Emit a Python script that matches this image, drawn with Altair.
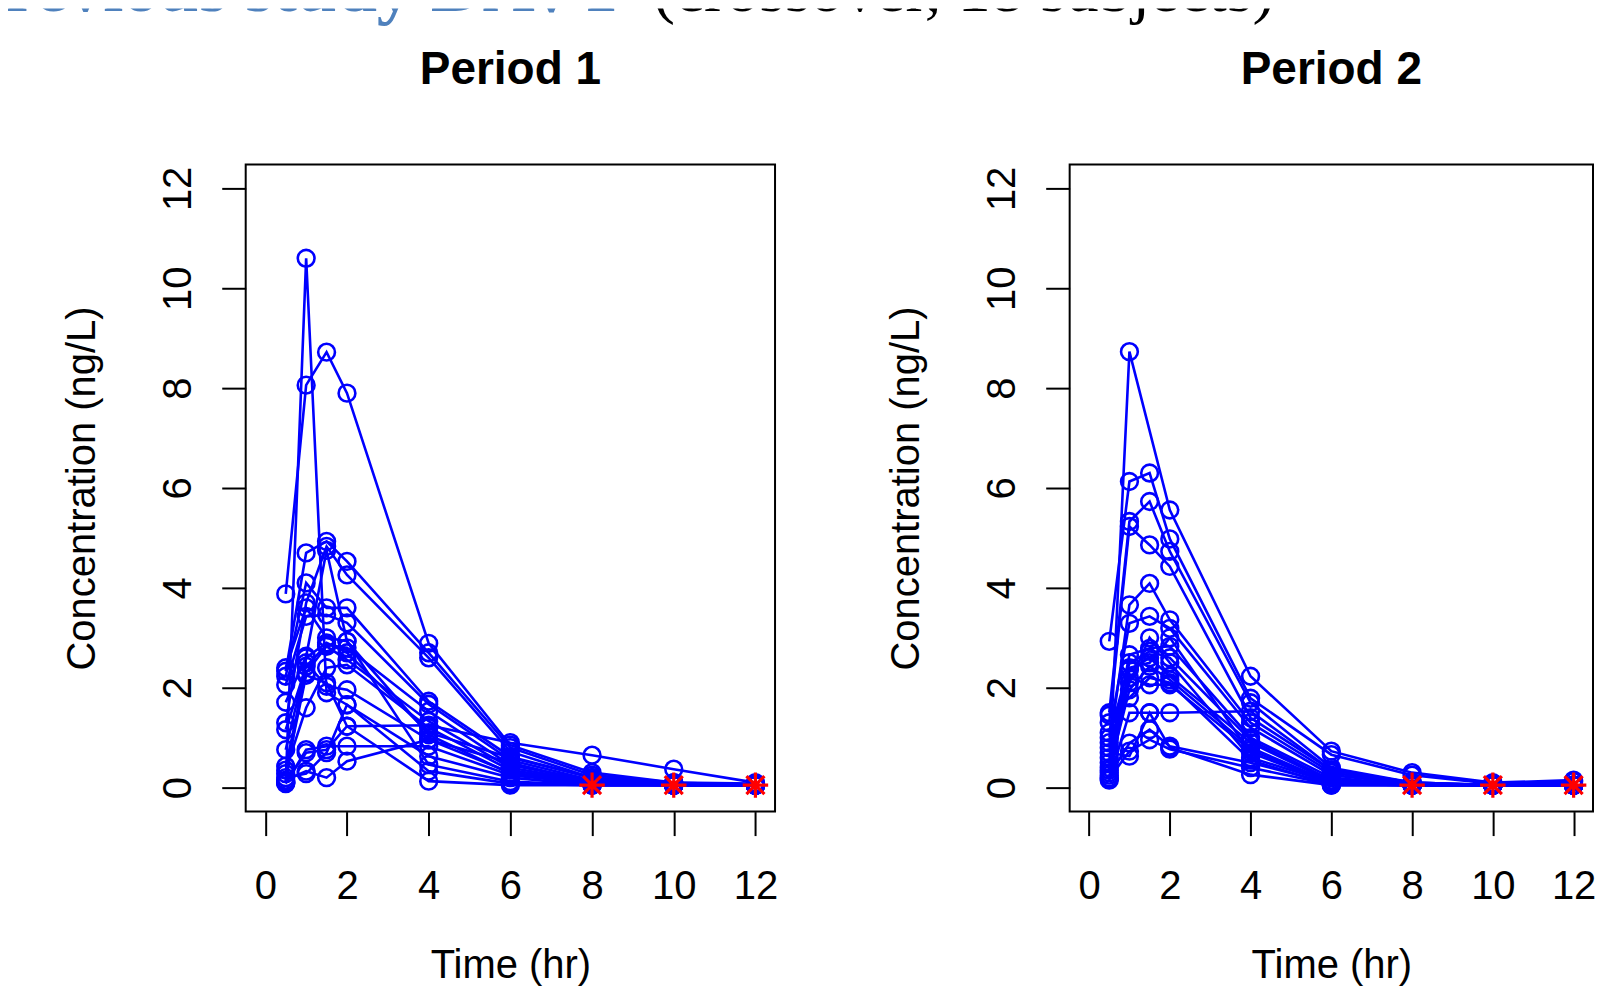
import altair as alt
import pandas as pd

# ---------------- data ----------------
times = [0.5, 1, 1.5, 2, 4, 6, 8, 10, 12]

# concentration (ng/L) per subject, period 1
period1 = [
    [0.10, 10.6, 1.90, 1.66, 0.63, 0.20, 0.05, 0.05, 0.05],
    [3.88, 8.06, 8.72, 7.90, 2.89, 0.85, 0.30, 0.10, 0.08],
    [2.33, 4.70, 4.93, 4.53, 2.70, 0.80, 0.25, 0.10, 0.05],
    [1.30, 3.70, 4.83, 4.26, 2.60, 0.72, 0.20, 0.08, 0.05],
    [2.23, 4.10, 3.60, 3.60, 1.73, 0.62, 0.20, 0.05, 0.05],
    [2.06, 3.43, 3.46, 3.30, 1.67, 0.55, 0.15, 0.05, 0.05],
    [1.71, 2.63, 4.75, 2.93, 0.46, 0.12, 0.05, 0.05, 0.05],
    [1.16, 2.43, 2.86, 2.80, 1.53, 0.45, 0.15, 0.05, 0.05],
    [0.43, 2.30, 2.83, 2.56, 1.33, 0.40, 0.12, 0.05, 0.05],
    [0.35, 1.60, 2.40, 2.46, 1.20, 0.35, 0.10, 0.05, 0.05],
    [0.76, 2.50, 2.03, 1.96, 0.96, 0.30, 0.10, 0.05, 0.05],
    [2.40, 3.60, 3.00, 2.93, 1.06, 0.28, 0.08, 0.05, 0.05],
    [0.12, 0.70, 0.76, 1.23, 1.25, 0.90, 0.65, 0.37, 0.10],
    [0.15, 0.33, 0.20, 0.53, 0.96, 0.50, 0.10, 0.05, 0.05],
    [0.08, 0.76, 0.83, 0.83, 0.83, 0.25, 0.08, 0.05, 0.05],
    [0.20, 0.28, 0.70, 1.66, 0.33, 0.08, 0.05, 0.05, 0.05],
    [0.28, 2.25, 2.10, 1.23, 0.13, 0.05, 0.05, 0.05, 0.05],
    [0.10, 2.60, 2.90, 2.70, 1.10, 0.60, 0.20, 0.05, 0.05],
]

# concentration (ng/L) per subject, period 2 (None = no sample)
period2 = [
    [0.30, 8.73, None, 5.56, 2.23, 0.73, 0.30, 0.10, 0.15],
    [2.93, 6.13, 6.30, 4.98, 1.79, 0.66, 0.25, 0.08, 0.12],
    [1.50, 5.33, 5.73, 4.73, 1.70, 0.40, 0.10, 0.05, 0.05],
    [1.30, 5.23, 4.86, 4.43, 1.40, 0.35, 0.10, 0.05, 0.05],
    [0.80, 3.66, 4.09, 3.36, 1.30, 0.30, 0.08, 0.05, 0.05],
    [1.10, 3.29, 3.43, 3.19, 1.20, 0.25, 0.08, 0.05, 0.05],
    [0.60, 2.66, 2.79, 2.83, 1.00, 0.20, 0.05, 0.05, 0.05],
    [1.00, 2.50, 2.73, 2.60, 0.95, 0.15, 0.05, 0.05, 0.05],
    [0.40, 2.36, 2.60, 2.23, 0.90, 0.12, 0.05, 0.05, 0.05],
    [0.35, 1.96, 2.43, 2.16, 0.80, 0.10, 0.05, 0.05, 0.05],
    [0.20, 2.20, 2.06, 2.06, 0.75, 0.10, 0.05, 0.05, 0.05],
    [0.15, 1.50, 1.50, 1.50, 1.53, 0.35, 0.10, 0.05, 0.05],
    [0.25, 0.89, 1.16, 0.83, 0.50, 0.08, 0.05, 0.05, 0.05],
    [0.18, 0.73, 0.96, 0.77, 0.40, 0.06, 0.05, 0.05, 0.05],
    [0.70, 0.63, 1.50, 0.80, 0.26, 0.05, 0.05, 0.05, 0.05],
    [0.50, 2.40, 2.50, 3.00, 0.70, 0.08, 0.05, 0.05, 0.05],
    [0.90, 2.10, 3.00, 2.50, 0.60, 0.10, 0.05, 0.05, 0.05],
    [1.45, 1.80, 2.20, 2.10, 0.55, 0.05, 0.05, 0.05, 0.05],
]

blq_times = [8, 10, 12]
blq_conc = [0.05, 0.05, 0.05]

panel_titles = ["Period 1", "Period 2"]
x_ticks = [0, 2, 4, 6, 8, 10, 12]
y_ticks = [0, 2, 4, 6, 8, 10, 12]
x_title = "Time (hr)"
y_title = "Concentration (ng/L)"
header_blue = "Previous study DAVT"
header_black = "(crossover, 18 subjects)"

# ---------------- styling ----------------
BLUE = "#0000FF"
SANS = "Liberation Sans"
SERIF = "Liberation Serif"
STAR = ("M-1,0L1,0M0,-1L0,1M-0.7071,-0.7071L0.7071,0.7071"
        "M-0.7071,0.7071L0.7071,-0.7071")
NO_FRAME = alt.ViewBackground(strokeWidth=0, strokeOpacity=0)


def long_table(mat):
    rows = []
    for i, prof in enumerate(mat):
        for t, c in zip(times, prof):
            if c is not None:
                rows.append({"subject": i + 1, "time": t, "conc": c})
    return pd.DataFrame(rows)


blq_df = pd.DataFrame({"time": blq_times, "conc": blq_conc})


def panel(mat, title, width):
    df = long_table(mat)
    xs = alt.Scale(domain=[-0.48, 12.48], nice=False, zero=False)
    ys = alt.Scale(domain=[-0.48, 12.48], nice=False, zero=False)
    xax = alt.Axis(values=x_ticks, title=x_title, domain=False, grid=False,
                   tickSize=24, tickWidth=2, tickColor="black",
                   labelFont=SANS, labelFontSize=40, labelColor="black",
                   labelPadding=31, labelBaseline="top", labelFlush=False,
                   labelOverlap=False,
                   titleFont=SANS, titleFontSize=40, titleFontWeight="normal",
                   titleColor="black", titleBaseline="alphabetic", titleY=166)
    yax = alt.Axis(values=y_ticks, title=y_title, domain=False, grid=False,
                   tickSize=24, tickWidth=2, tickColor="black",
                   labelFont=SANS, labelFontSize=40, labelColor="black",
                   labelAngle=270, labelAlign="center", labelBaseline="bottom",
                   labelPadding=23, labelFlush=False, labelOverlap=False,
                   titleFont=SANS, titleFontSize=40, titleFontWeight="normal",
                   titleColor="black", titleAngle=270, titleAlign="center",
                   titleBaseline="alphabetic", titleX=-151)
    x = alt.X("time:Q", scale=xs, axis=xax)
    y = alt.Y("conc:Q", scale=ys, axis=yax)
    base = alt.Chart(df)
    lines = base.mark_line(color=BLUE, strokeWidth=2.6).encode(
        x=x, y=y, detail="subject:N", order="time:Q")
    pts = base.mark_point(shape="circle", size=282, filled=False, color=BLUE,
                          strokeWidth=2.6, opacity=1).encode(x=x, y=y)
    stars = alt.Chart(blq_df).mark_point(shape=STAR, size=650, filled=False,
                                         color="#FF0000", strokeWidth=3.2,
                                         opacity=1).encode(x=x, y=y)
    return alt.layer(lines, pts, stars).properties(
        width=width, height=648,
        title=alt.TitleParams(text=title, font=SANS, fontSize=46,
                              fontWeight="bold", color="black",
                              baseline="alphabetic", offset=35,
                              frame="group", anchor="middle"))


p1 = panel(period1, panel_titles[0], 530)
p2 = panel(period2, panel_titles[1], 524)

# empty cell that only reserves room on the left of the panels
left_pad = alt.Chart(pd.DataFrame({"s": [0]})).mark_rule(
    opacity=0).encode(x=alt.value(0), x2=alt.value(1),
                      y=alt.value(0), y2=alt.value(1)).properties(
    width=54, height=1, view=NO_FRAME)

header = alt.layer(
    alt.Chart(pd.DataFrame({"t": [header_blue]})).mark_text(
        clip=True, align="right", baseline="alphabetic", font=SERIF,
        fontWeight="bold", fontSize=72, color="#4F81BD").encode(
        text="t:N", x=alt.value(618), y=alt.value(2.5)),
    alt.Chart(pd.DataFrame({"t": [header_black]})).mark_text(
        clip=True, align="right", baseline="alphabetic", font=SERIF,
        fontSize=66, color="black").encode(
        text="t:N", x=alt.value(1268), y=alt.value(2.5)),
).properties(width=1560, height=24, view=NO_FRAME)

panels = alt.hconcat(left_pad, alt.hconcat(p1, p2, spacing=107), spacing=0)

chart = alt.vconcat(header, panels, spacing=13).properties(
    padding=0).configure_view(stroke="black", strokeWidth=2)

chart.save("out.html", embed_options={"renderer": "svg", "actions": False})
